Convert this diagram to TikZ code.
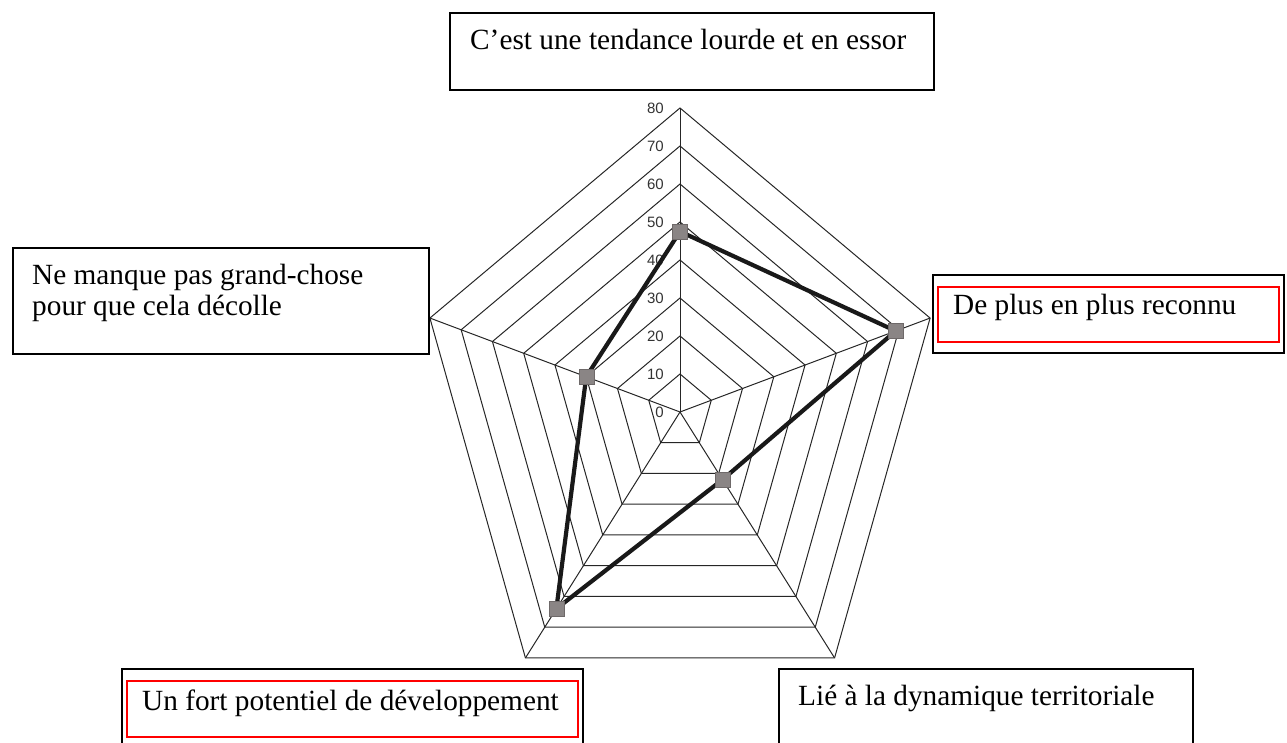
\documentclass[tikz,border=0pt]{standalone}
\usepackage{fontspec}
\setmainfont{Liberation Serif}
\newfontfamily\axisfont{Liberation Sans}
\usetikzlibrary{positioning}

\definecolor{markgray}{RGB}{138,133,133}
\definecolor{markedge}{RGB}{110,105,105}

\tikzset{
  box/.style={draw, line width=1.8pt, inner sep=0pt},
  redbox/.style={draw=red, line width=1.7pt, inner sep=0pt},
  boxtext/.style={font=\fontsize{29.3}{31}\selectfont, inner sep=0pt, anchor=base west, align=left},
  web/.style={line width=1pt, black!85},
  score/.style={line width=4.2pt, black!90, line join=round},
  datapt/.style={draw=markedge, fill=markgray, minimum size=15pt, inner sep=0pt},
  axislabel/.style={font=\axisfont\fontsize{15}{15}\selectfont, anchor=east, inner sep=0pt, text=black!80}
}

\begin{document}
\begin{tikzpicture}[x=1pt, y=1pt]
  \useasboundingbox (0,0) rectangle (1287,742);

  % the radar web, centre at (680,330)
  \begin{scope}[shift={(680,330)}, xscale=0.865]
    \foreach \v in {1,...,8}
      \draw[web] (90:\v*38) -- (18:\v*38) -- (-54:\v*38) -- (-126:\v*38) -- (162:\v*38) -- cycle;
    \foreach \a in {90,18,-54,-126,162}
      \draw[web] (0,0) -- (\a:304);
    \foreach \v in {0,...,8}
      \node[axislabel] (lev\v) at (-18.5,\v*38) {\number\numexpr\v*10\relax};

    % scores
    \coordinate (tend) at (90:47.5*3.8);
    \coordinate (reco) at (18:69*3.8);
    \coordinate (terr) at (-54:22*3.8);
    \coordinate (pot)  at (-126:64*3.8);
    \coordinate (deco) at (162:30*3.8);
    \draw[score] (tend) -- (reco) -- (terr) -- (pot) -- (deco) -- cycle;
    \node[datapt] (mtend) at (tend) {};
    \node[datapt] (mreco) at (reco) {};
    \node[datapt] (mterr) at (terr) {};
    \node[datapt] (mpot)  at (pot)  {};
    \node[datapt] (mdeco) at (deco) {};
  \end{scope}

  % the five captions
  \node[box, minimum width=484pt, minimum height=77pt, anchor=north west] (tendbox) at (449,730) {};
  \node[boxtext] (tendtxt) at (470,692) {C’est une tendance lourde et en essor};

  \node[box, minimum width=416pt, minimum height=106pt, anchor=north west] (decobox) at (12,495) {};
  \node[boxtext] (decotxt) at (32,426) {Ne manque pas grand-chose\\pour que cela décolle};

  \node[box, minimum width=351pt, minimum height=78pt, anchor=north west] (recobox) at (932,468) {};
  \node[redbox, minimum width=341pt, minimum height=55pt, anchor=north west] (recored) at (937,456) {};
  \node[boxtext] (recotxt) at (953,427) {De plus en plus reconnu};

  \node[box, minimum width=461pt, minimum height=90pt, anchor=north west] (potbox) at (121,74) {};
  \node[redbox, minimum width=451pt, minimum height=56pt, anchor=north west] (potred) at (126,62) {};
  \node[boxtext] (pottxt) at (142,32) {Un fort potentiel de développement};

  \node[box, minimum width=414pt, minimum height=90pt, anchor=north west] (terrbox) at (778,74) {};
  \node[boxtext] (terrtxt) at (798,37) {Lié à la dynamique territoriale};
\end{tikzpicture}
\end{document}
